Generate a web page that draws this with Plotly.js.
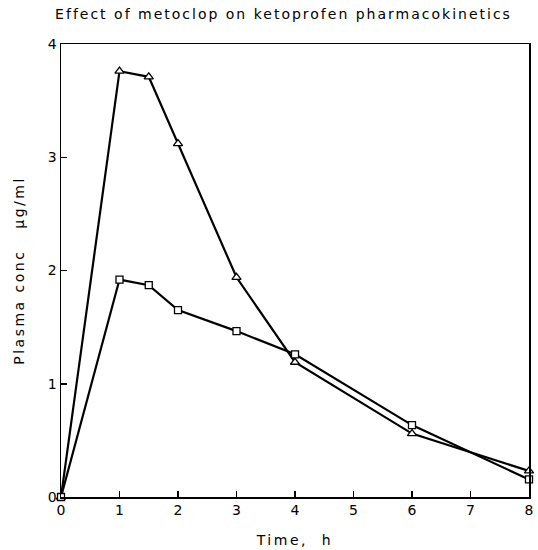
<!DOCTYPE html>
<html>
<head>
<meta charset="utf-8">
<script src="https://cdn.plot.ly/plotly-3.0.1.min.js"></script>
<style>
html,body{margin:0;padding:0;background:#fff;}
#chart{width:538px;height:550px;}
#chart .gtitle{letter-spacing:2px;}
#chart .xtitle,#chart .ytitle{letter-spacing:2.5px;}
</style>
</head>
<body>
<div id="chart"></div>
<script>
// Time points (h)
var timeH = [0, 1, 1.5, 2, 3, 4, 6, 8];
// Triangles series (plasma conc, µg/ml)
var triangleConc = [0, 3.76, 3.71, 3.12, 1.94, 1.19, 0.56, 0.23];
// Squares series (plasma conc, µg/ml)
var squareConc = [0, 1.92, 1.87, 1.65, 1.465, 1.26, 0.635, 0.155];
var xTicks = [0, 1, 2, 3, 4, 5, 6, 7, 8];
var yTicks = [0, 1, 2, 3, 4];

var font = "DejaVu Sans, sans-serif";

var traces = [
  {
    x: timeH, y: triangleConc, mode: "lines+markers", type: "scatter",
    line: {color: "#000", width: 2.2},
    marker: {symbol: "triangle-up", size: 8, color: "#fff", line: {color: "#000", width: 1.3}},
    cliponaxis: false, showlegend: false
  },
  {
    x: timeH, y: squareConc, mode: "lines+markers", type: "scatter",
    line: {color: "#000", width: 2.2},
    marker: {symbol: "square", size: 7, color: "#fff", line: {color: "#000", width: 1.3}},
    cliponaxis: false, showlegend: false
  }
];

var layout = {
  width: 538, height: 550,
  margin: {l: 61, r: 9, t: 44, b: 53},
  paper_bgcolor: "#fff", plot_bgcolor: "#fff",
  font: {family: font, color: "#000", size: 13},
  title: {
    text: "Effect of metoclop on ketoprofen pharmacokinetics",
    font: {family: font, size: 14, color: "#000"},
    x: 0.527, xanchor: "center", y: 0.975, yanchor: "middle"
  },
  xaxis: {
    range: [0, 8], tickvals: xTicks, ticktext: xTicks.map(String),
    ticks: "inside", ticklen: 6, tickwidth: 1.5, tickcolor: "#000",
    showline: true, linecolor: "#000", linewidth: 1.5, mirror: true,
    showgrid: false, zeroline: false,
    tickfont: {family: font, size: 14, color: "#000"},
    title: {text: "Time,  h", font: {family: font, size: 14, color: "#000"}, standoff: 18}
  },
  yaxis: {
    range: [0, 4], tickvals: yTicks, ticktext: yTicks.map(String),
    ticks: "inside", ticklen: 6, tickwidth: 1.5, tickcolor: "#000",
    showline: true, linecolor: "#000", linewidth: 1.5, mirror: true,
    showgrid: false, zeroline: false,
    tickfont: {family: font, size: 14, color: "#000"},
    title: {text: "Plasma conc   µg/ml", font: {family: font, size: 14, color: "#000"}, standoff: 20}
  }
};

Plotly.newPlot("chart", traces, layout, {staticPlot: true, displayModeBar: false});
</script>
</body>
</html>
